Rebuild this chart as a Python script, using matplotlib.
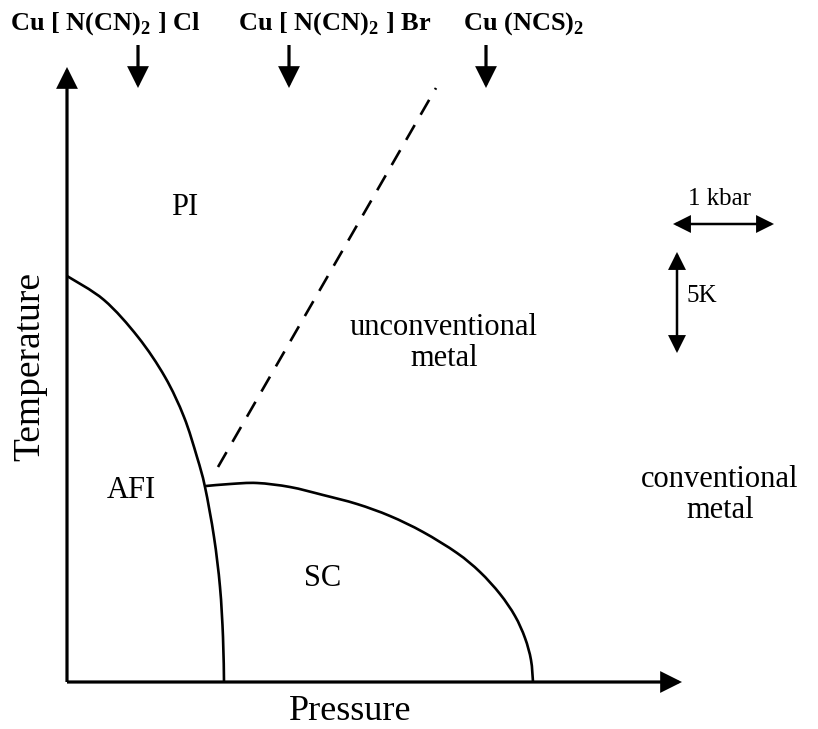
import matplotlib
matplotlib.use("Agg")
import matplotlib.pyplot as plt
from matplotlib.patches import FancyArrowPatch, PathPatch
from matplotlib.path import Path

plt.rcParams["font.family"] = ["Liberation Serif", "DejaVu Serif"]
plt.rcParams["mathtext.fontset"] = "custom"
plt.rcParams["mathtext.rm"] = "Liberation Serif"
plt.rcParams["mathtext.bf"] = "Liberation Serif:bold"

# Schematic phase diagram (pressure / temperature in arbitrary units)
afi_pressure = [0, 37, 71, 98, 117, 130, 138, 147, 153, 156, 157]
afi_temperature = [406, 382, 345, 305, 265, 225, 195, 145, 95, 45, 0]

sc_pressure = [139, 163, 190, 223, 256, 290, 323, 356, 390, 413, 433, 448, 458, 464, 466]
sc_temperature = [196, 198, 199, 195, 187, 178, 166, 150, 129, 110, 88, 66, 44, 22, 0]

crossover_pressure = [151, 369]
crossover_temperature = [215, 594]

compounds = [r"Cu [ N(CN)$_\mathbf{2}$ ] Cl", r"Cu [ N(CN)$_\mathbf{2}$ ] Br", r"Cu (NCS)$_\mathbf{2}$"]
compound_label_pressure = [-57, 171, 396]
compound_pressure = [71, 222, 419]

phase_labels = ["PI", "unconventional\nmetal", "AFI", "SC", "conventional\nmetal"]
phase_label_pressure = [118, 377, 64, 256, 653]
phase_label_temperature = [475, 339, 192, 104, 187]

fig = plt.figure(figsize=(8.18, 7.29), dpi=100)
ax = fig.add_axes([0, 0, 1, 1])
ax.set_xlim(-67, 751)
ax.set_ylim(-47, 682)
ax.axis("off")


def arrow(p0, p1, style, lw, hl, hw):
    ax.add_patch(FancyArrowPatch(p0, p1, arrowstyle=f"{style},head_length={hl},head_width={hw}",
                                 mutation_scale=1, lw=lw, color="black",
                                 shrinkA=0, shrinkB=0, joinstyle="miter", capstyle="butt"))


def smooth_curve(xs, ys, **kw):
    # Catmull-Rom spline through the points, drawn as cubic Bezier segments
    pts = list(zip(xs, ys))
    verts = [pts[0]]
    codes = [Path.MOVETO]
    n = len(pts)
    for i in range(n - 1):
        p0 = pts[i - 1] if i > 0 else pts[i]
        p1 = pts[i]
        p2 = pts[i + 1]
        p3 = pts[i + 2] if i + 2 < n else pts[i + 1]
        c1 = (p1[0] + (p2[0] - p0[0]) / 6, p1[1] + (p2[1] - p0[1]) / 6)
        c2 = (p2[0] - (p3[0] - p1[0]) / 6, p2[1] - (p3[1] - p1[1]) / 6)
        verts += [c1, c2, p2]
        codes += [Path.CURVE4] * 3
    ax.add_patch(PathPatch(Path(verts, codes), fill=False, **kw))


# axes with arrow heads
arrow((0, 0), (0, 615), "-|>", 2.3, 12, 6)
arrow((0, 0), (615, 0), "-|>", 2.3, 12, 6)

# phase boundaries
smooth_curve(afi_pressure, afi_temperature, color="black", lw=1.9, capstyle="butt")
smooth_curve(sc_pressure, sc_temperature, color="black", lw=1.9, capstyle="butt")
ax.plot(crossover_pressure, crossover_temperature, color="black", lw=1.9,
        linestyle=(0, (6.5, 4.5)), dash_capstyle="butt")

# compounds along the pressure axis
for name, lp, cp in zip(compounds, compound_label_pressure, compound_pressure):
    ax.text(lp, 652, name, fontsize=19, fontweight="bold", ha="left", va="baseline")
    arrow((cp, 637), (cp, 594), "-|>", 2.3, 12, 6)

# phase region labels
for label, p, t in zip(phase_labels, phase_label_pressure, phase_label_temperature):
    ax.text(p, t, label, fontsize=22, ha="center", va="center", linespacing=1.12)

# axis titles
ax.text(350 - 67, 682 - 720, "Pressure", fontsize=26, ha="center", va="baseline")
ax.text(30 - 67, 682 - 366, "Temperature", fontsize=27, ha="center", va="center", rotation=90)

# scale bars
arrow((673 - 67, 682 - 224), (774 - 67, 682 - 224), "<|-|>", 1.8, 10, 5)
ax.text(720 - 67, 682 - 205, "1 kbar", fontsize=18, ha="center", va="baseline")
arrow((677 - 67, 682 - 252), (677 - 67, 682 - 353), "<|-|>", 1.8, 10, 5)
ax.text(687 - 67, 682 - 296, "5K", fontsize=18, ha="left", va="center")

fig.savefig("out.png", dpi=100)
